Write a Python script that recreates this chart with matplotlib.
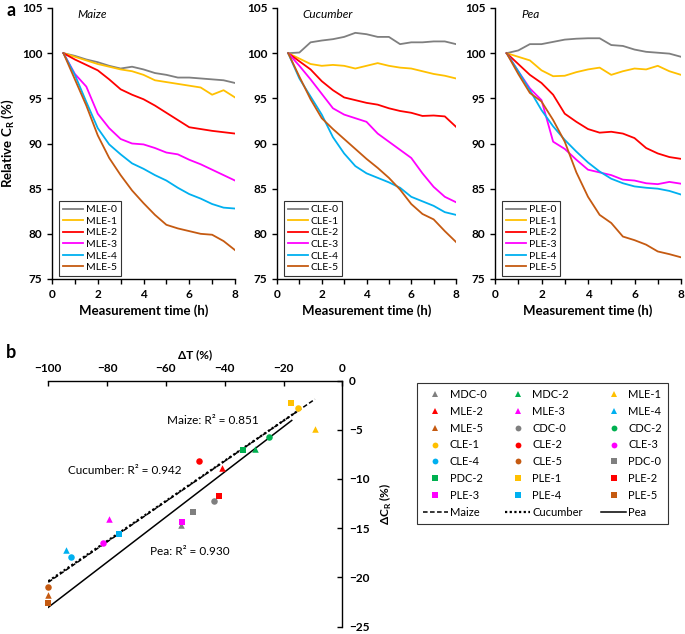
import matplotlib
matplotlib.use("Agg")
import matplotlib.pyplot as plt
from matplotlib.lines import Line2D

plt.rcParams['font.family'] = ['Lato', 'DejaVu Sans']

# measurement time (h)
hours = [0.5, 1, 1.5, 2, 2.5, 3, 3.5, 4, 4.5, 5, 5.5, 6, 6.5, 7, 7.5, 8]

# relative C_R (%) - maize
mle0 = [100, 99.7, 99.3, 99.0, 98.6, 98.3, 98.5, 98.2, 97.8, 97.6, 97.3, 97.3, 97.2, 97.1, 97.0, 96.7]
mle1 = [100, 99.6, 99.2, 98.8, 98.5, 98.2, 98.0, 97.6, 97.0, 96.8, 96.6, 96.4, 96.2, 95.4, 95.9, 95.1]
mle2 = [100, 99.3, 98.7, 98.1, 97.1, 96.0, 95.4, 94.9, 94.2, 93.4, 92.6, 91.8, 91.6, 91.4, 91.25, 91.1]
mle3 = [100, 97.7, 96.3, 93.3, 91.7, 90.5, 90.0, 89.9, 89.5, 89.0, 88.8, 88.2, 87.7, 87.1, 86.5, 85.9]
mle4 = [100, 97.6, 94.6, 91.7, 89.9, 88.8, 87.8, 87.2, 86.5, 85.9, 85.1, 84.4, 83.9, 83.3, 82.9, 82.8]
mle5 = [100, 97.1, 94.2, 90.9, 88.4, 86.5, 84.8, 83.4, 82.1, 81.0, 80.6, 80.3, 80.0, 79.9, 79.2, 78.2]

# relative C_R (%) - cucumber
cle0 = [100, 100.07, 101.2, 101.4, 101.55, 101.8, 102.25, 102.1, 101.8, 101.8, 101.0, 101.2, 101.2, 101.3, 101.3, 101.0]
cle1 = [100, 99.4, 98.8, 98.6, 98.7, 98.6, 98.3, 98.6, 98.9, 98.6, 98.4, 98.3, 98.0, 97.7, 97.5, 97.2]
cle2 = [100, 99.1, 98.2, 96.9, 95.9, 95.1, 94.8, 94.5, 94.3, 93.9, 93.6, 93.4, 93.05, 93.1, 93.0, 91.85]
cle3 = [100, 98.6, 97.1, 95.5, 93.9, 93.2, 92.8, 92.4, 91.1, 90.2, 89.3, 88.4, 86.7, 85.2, 84.1, 83.5]
cle4 = [100, 97.2, 95.2, 93.2, 90.7, 88.9, 87.5, 86.7, 86.2, 85.7, 85.1, 84.1, 83.6, 83.1, 82.4, 82.1]
cle5 = [100, 97.4, 94.9, 92.8, 91.6, 90.5, 89.4, 88.3, 87.3, 86.2, 84.9, 83.3, 82.2, 81.6, 80.3, 79.1]

# relative C_R (%) - pea
ple0 = [100, 100.3, 101.0, 101.0, 101.25, 101.5, 101.6, 101.65, 101.65, 100.9, 100.8, 100.4, 100.15, 100.05, 99.95, 99.6]
ple1 = [100, 99.6, 99.2, 98.1, 97.45, 97.5, 97.9, 98.2, 98.4, 97.6, 98.0, 98.3, 98.2, 98.6, 98.0, 97.6]
ple2 = [100, 98.8, 97.6, 96.7, 95.4, 93.3, 92.4, 91.6, 91.2, 91.3, 91.1, 90.6, 89.5, 88.9, 88.5, 88.3]
ple3 = [100, 98.0, 96.1, 94.8, 90.2, 89.4, 88.2, 87.1, 86.8, 86.5, 86.0, 85.9, 85.6, 85.5, 85.75, 85.55]
ple4 = [100, 98.0, 95.9, 93.7, 91.9, 90.4, 89.1, 87.9, 86.9, 86.1, 85.6, 85.25, 85.1, 85.0, 84.75, 84.35]
ple5 = [100, 97.7, 95.6, 94.65, 92.6, 90.2, 86.8, 84.1, 82.1, 81.2, 79.7, 79.3, 78.8, 78.05, 77.75, 77.4]

crops = ['Maize', 'Cucumber', 'Pea']
series_names = [['MLE-0', 'MLE-1', 'MLE-2', 'MLE-3', 'MLE-4', 'MLE-5'],
                ['CLE-0', 'CLE-1', 'CLE-2', 'CLE-3', 'CLE-4', 'CLE-5'],
                ['PLE-0', 'PLE-1', 'PLE-2', 'PLE-3', 'PLE-4', 'PLE-5']]
series_values = [[mle0, mle1, mle2, mle3, mle4, mle5],
                 [cle0, cle1, cle2, cle3, cle4, cle5],
                 [ple0, ple1, ple2, ple3, ple4, ple5]]

# panel b: change of transpiration vs change of C_R
point_labels = ['MDC-0', 'MDC-2', 'MLE-1', 'MLE-2', 'MLE-3', 'MLE-4', 'MLE-5',
                'CDC-0', 'CDC-2', 'CLE-1', 'CLE-2', 'CLE-3', 'CLE-4', 'CLE-5',
                'PDC-0', 'PDC-2', 'PLE-1', 'PLE-2', 'PLE-3', 'PLE-4', 'PLE-5']
delta_t = [-54.9, -29.7, -9.3, -40.9, -79.3, -94.1, -100.0,
           -43.5, -25.1, -15.2, -48.8, -81.5, -92.4, -100.0,
           -50.9, -33.8, -17.5, -41.8, -54.6, -76.0, -100.0]
delta_cr = [-14.7, -7.0, -4.9, -8.9, -14.1, -17.2, -21.8,
            -12.2, -5.7, -2.8, -8.2, -16.5, -17.9, -21.0,
            -13.4, -7.1, -2.3, -11.7, -14.4, -15.6, -22.6]

# fitted lines (end points)
fit_x = {'Maize': [-100, -9.3], 'Cucumber': [-100, -15.2], 'Pea': [-100, -17.2]}
fit_y = {'Maize': [-20.5, -1.9], 'Cucumber': [-20.4, -3.1], 'Pea': [-23.05, -4.06]}
fit_r2 = {'Maize': '0.851', 'Cucumber': '0.942', 'Pea': '0.930'}

level_colors = ['#7F7F7F', '#FFC000', '#FF0000', '#FF00FF', '#00B0F0', '#C55A11']
green = '#00B050'
crop_marker = {'M': '^', 'C': 'o', 'P': 's'}
fit_style = {'Maize': (0, (3, 1.6)), 'Cucumber': (0, (1, 1.1)), 'Pea': '-'}
fit_lw = {'Maize': 1.1, 'Cucumber': 1.6, 'Pea': 1.1}

W, H = 685, 634
fig = plt.figure(figsize=(W / 100, H / 100), dpi=100)


def fr(x0, y0, x1, y1):
    return [x0 / W, 1 - y1 / H, (x1 - x0) / W, (y1 - y0) / H]


top_boxes = [fr(52, 8, 235, 279), fr(277, 8, 456, 279), fr(495, 8, 681, 279)]

for i, crop in enumerate(crops):
    ax = fig.add_axes(top_boxes[i])
    for name, vals, col in zip(series_names[i], series_values[i], level_colors):
        ax.plot(hours, vals, color=col, lw=1.3, label=name)
    ax.set_xlim(0, 8)
    ax.set_ylim(75, 105)
    ax.set_xticks([0, 2, 4, 6, 8])
    ax.set_xticks([1, 3, 5, 7], minor=True)
    ax.set_yticks([75, 80, 85, 90, 95, 100, 105])
    for s in ['top', 'right']:
        ax.spines[s].set_visible(False)
    for s in ['left', 'bottom']:
        ax.spines[s].set_linewidth(1.0)
    ax.tick_params(which='both', direction='out', length=3.5, width=1.0, labelsize=8.5)
    for lab in ax.get_xticklabels() + ax.get_yticklabels():
        lab.set_fontweight('bold')
    ax.set_xlabel('Measurement time (h)', fontsize=9.5, fontweight='bold', labelpad=3)
    if i == 0:
        ax.set_ylabel('Relative C$_\\mathregular{R}$ (%)', fontsize=9.5, fontweight='bold', labelpad=4)
    ax.text(0.14, 0.975, crop, transform=ax.transAxes, style='italic', fontsize=8.5,
            va='center', ha='left')
    leg = ax.legend(loc='lower left', bbox_to_anchor=(0.04, 0.012), borderaxespad=0,
                    fontsize=7.5, handlelength=1.9, handletextpad=0.3, labelspacing=0.22,
                    borderpad=0.35, fancybox=False, framealpha=1)
    leg.get_frame().set_edgecolor('#333333')
    leg.get_frame().set_linewidth(0.8)

fig.text(6 / W, 1 - 11 / H, 'a', fontsize=13, fontweight='bold', va='center', ha='left')
fig.text(6 / W, 1 - 352 / H, 'b', fontsize=13, fontweight='bold', va='center', ha='left')

# panel b
axb = fig.add_axes(fr(48.3, 380.5, 342.3, 626.5))
handles = {}
for lab, x, y in zip(point_labels, delta_t, delta_cr):
    lvl = int(lab[-1])
    col = green if lab[1:3] == 'DC' and lvl == 2 else level_colors[lvl]
    axb.scatter([x], [y], marker=crop_marker[lab[0]], s=22, color=col,
                linewidths=0, clip_on=False, zorder=3)
    handles[lab] = Line2D([], [], ls='none', marker=crop_marker[lab[0]], ms=4.2,
                          color=col, mew=0)

line_handles = []
for crop in crops:
    axb.plot(fit_x[crop], fit_y[crop], color='black', lw=fit_lw[crop], ls=fit_style[crop], zorder=2)
    line_handles.append(Line2D([], [], color='black', lw=fit_lw[crop], ls=fit_style[crop]))

axb.text(-59.7, -4.1, 'Maize: R² = ' + fit_r2['Maize'], fontsize=8.5, va='center')
axb.text(-93.3, -9.1, 'Cucumber: R² = ' + fit_r2['Cucumber'], fontsize=8.5, va='center')
axb.text(-65.4, -17.4, 'Pea: R² = ' + fit_r2['Pea'], fontsize=8.5, va='center')

axb.set_xlim(-100, 0)
axb.set_ylim(-25, 0)
axb.set_xticks([-100, -80, -60, -40, -20, 0])
axb.set_yticks([0, -5, -10, -15, -20, -25])
axb.xaxis.tick_top()
axb.xaxis.set_label_position('top')
axb.yaxis.tick_right()
axb.yaxis.set_label_position('right')
axb.spines['bottom'].set_visible(False)
axb.spines['left'].set_visible(False)
axb.spines['top'].set_linewidth(1.0)
axb.spines['right'].set_linewidth(1.0)
axb.tick_params(direction='in', length=3.5, width=1.0, labelsize=8.5, pad=5)
for lab in axb.get_xticklabels() + axb.get_yticklabels():
    lab.set_fontweight('bold')
axb.set_xlabel('ΔT (%)', fontsize=8.5, fontweight='bold', labelpad=3)
axb.set_ylabel('ΔC$_\\mathregular{R}$ (%)', fontsize=8.5, fontweight='bold', labelpad=6)

# legend for panel b, filled row by row
all_labels = point_labels + crops
all_handles = [handles[l] for l in point_labels] + line_handles
nrow, ncol = 8, 3
order = [r * ncol + c for c in range(ncol) for r in range(nrow)]
legb = fig.legend([all_handles[k] for k in order], [all_labels[k] for k in order],
                  loc='upper left', bbox_to_anchor=(417 / W, 1 - 383 / H), ncol=3,
                  fontsize=8, handlelength=2.2, handletextpad=0.2, columnspacing=1.7,
                  labelspacing=0.52, borderpad=0.55, borderaxespad=0,
                  fancybox=False, framealpha=1)
legb.get_frame().set_edgecolor('#333333')
legb.get_frame().set_linewidth(0.8)

fig.savefig('out.png', dpi=100)
